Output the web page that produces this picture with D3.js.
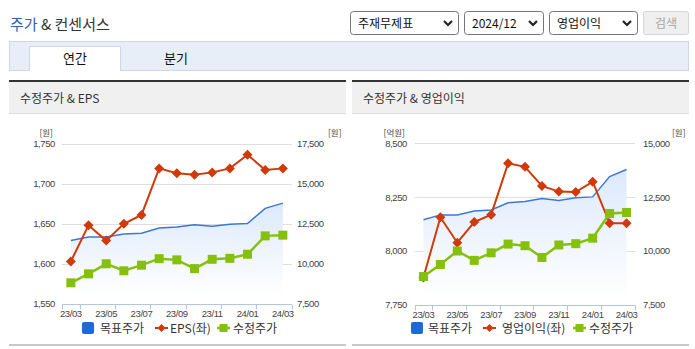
<!DOCTYPE html>
<html><head><meta charset="utf-8">
<script src="https://cdn.jsdelivr.net/npm/d3@7/dist/d3.min.js"></script>
<style>
html,body{margin:0;padding:0;background:#fff;}
svg{display:block;}
</style></head>
<body>
<svg id="c" width="695" height="349"></svg>
<script>
// ---- data ----
const months = ["23/03","23/04","23/05","23/06","23/07","23/08","23/09","23/10","23/11","23/12","24/01","24/02","24/03"];
const targetPrice = [11450, 11680, 11680, 11860, 11905, 12240, 12300, 12435, 12345, 12475, 12515, 13460, 13785];
const adjPrice = [8820, 9380, 10005, 9570, 9920, 10325, 10250, 9705, 10285, 10345, 10600, 11745, 11790];
const eps = [1603, 1648, 1629, 1650, 1661, 1719, 1713, 1711, 1714, 1719, 1736, 1717, 1719];
const opIncome = [7878, 8157, 8039, 8135, 8169, 8407, 8391, 8302, 8276, 8274, 8322, 8129, 8129];
const epsTicks = [1550, 1600, 1650, 1700, 1750];
const opTicks = [7750, 8000, 8250, 8500];
const priceTicksA = [7500, 10000, 12500, 15000, 17500];
const priceTicksB = [7500, 10000, 12500, 15000];

const KR = "'Noto Sans CJK KR','Noto Sans',sans-serif";
const NUM = "'Liberation Sans',Arial,sans-serif";
const svg = d3.select("#c");
const fmt = d3.format(",");

// defs
const defs = svg.append("defs");
const grad = defs.append("linearGradient").attr("id","areaGrad").attr("x1",0).attr("y1",0).attr("x2",0).attr("y2",1);
grad.append("stop").attr("offset","0%").attr("stop-color","#dce9fb");
grad.append("stop").attr("offset","100%").attr("stop-color","#ffffff");

// ---- header ----
const title = svg.append("text").attr("x",10).attr("y",30).attr("font-family",KR).attr("font-size",15);
title.append("tspan").attr("fill","#2f62b5").text("주가");
title.append("tspan").attr("fill","#333").text(" & 컨센서스");

// selects
function chevron(cx, cy){
  svg.append("path").attr("d",`M${cx-4},${cy-2} L${cx},${cy+2} L${cx+4},${cy-2}`)
    .attr("fill","none").attr("stroke","#222").attr("stroke-width",2.2);
}
const selects = [
  {x:350, w:108, label:"주재무제표"},
  {x:464, w:79, label:"2024/12"},
  {x:549, w:88, label:"영업이익"}
];
selects.forEach(s=>{
  svg.append("rect").attr("x",s.x+0.5).attr("y",11.5).attr("width",s.w).attr("height",23).attr("rx",3)
    .attr("fill","#fff").attr("stroke","#767676");
  svg.append("text").attr("x",s.x+8).attr("y",27.5).attr("font-family",KR).attr("font-size",12).attr("fill","#111").text(s.label);
  chevron(s.x+s.w-10, 23);
});
svg.append("rect").attr("x",643.5).attr("y",11.5).attr("width",45).attr("height",23).attr("rx",2)
  .attr("fill","#efefef").attr("stroke","#d6d6d6");
svg.append("text").attr("x",666).attr("y",27.5).attr("text-anchor","middle").attr("font-family",KR).attr("font-size",12).attr("fill","#a8a8a8").text("검색");

// tabs
svg.append("rect").attr("x",9.5).attr("y",41.5).attr("width",679).attr("height",29).attr("fill","#e8eef8").attr("stroke","#cdd7e6");
svg.append("path").attr("d","M29.5,71 L29.5,46.5 L120.5,46.5 L120.5,71").attr("fill","#fff").attr("stroke","#cdd7e6");
svg.append("rect").attr("x",30).attr("y",47).attr("width",90).attr("height",25).attr("fill","#fff");
svg.append("text").attr("x",75).attr("y",63).attr("text-anchor","middle").attr("font-family",KR).attr("font-size",13).attr("fill","#111").text("연간");
svg.append("text").attr("x",176).attr("y",63).attr("text-anchor","middle").attr("font-family",KR).attr("font-size",13).attr("fill","#111").text("분기");

// ---- charts ----
function panel(cfg){
  const g = svg.append("g");
  // panel chrome
  g.append("rect").attr("x",cfg.px).attr("y",82).attr("width",cfg.pw).attr("height",31).attr("fill","#f0f0f0");
  g.append("line").attr("x1",cfg.px).attr("x2",cfg.px+cfg.pw).attr("y1",81).attr("y2",81).attr("stroke","#333").attr("stroke-width",2);
  g.append("line").attr("x1",cfg.px).attr("x2",cfg.px+cfg.pw).attr("y1",113.5).attr("y2",113.5).attr("stroke","#dcdcdc");
  g.append("text").attr("x",cfg.px+11).attr("y",103).attr("font-family",KR).attr("font-size",12).attr("fill","#333").text(cfg.title);
  g.append("line").attr("x1",cfg.px).attr("x2",cfg.px+cfg.pw).attr("y1",345).attr("y2",345).attr("stroke","#c8c8c8").attr("stroke-width",2);

  const x = d3.scaleBand().domain(months).range([cfg.x0, cfg.x1]).padding(0);
  const cx = d => x(d) + x.bandwidth()/2;
  const yL = d3.scaleLinear().domain(cfg.lDomain).range([cfg.yb, cfg.yt]);
  const yR = d3.scaleLinear().domain(cfg.rDomain).range([cfg.yb, cfg.yt]);

  // grid
  cfg.lTicks.forEach(t=>{
    if (t !== cfg.lDomain[0])
      g.append("line").attr("x1",cfg.x0).attr("x2",cfg.x1).attr("y1",Math.round(yL(t))+0.5).attr("y2",Math.round(yL(t))+0.5).attr("stroke","#dedede");
    g.append("text").attr("x",cfg.lx).attr("y",yL(t)).attr("dy","0.35em").attr("text-anchor","end")
      .attr("font-family",NUM).attr("font-size",9.5).attr("letter-spacing",-0.4).attr("fill","#444").text(fmt(t));
  });
  cfg.rTicks.forEach(t=>{
    g.append("text").attr("x",cfg.rx).attr("y",yR(t)).attr("dy","0.35em").attr("text-anchor","start")
      .attr("font-family",NUM).attr("font-size",9.5).attr("letter-spacing",-0.4).attr("fill","#444").text(fmt(t));
  });
  g.append("text").attr("x",cfg.lux).attr("y",136).attr("text-anchor","end")
    .attr("font-family",KR).attr("font-size",8.5).attr("fill","#444").text(cfg.lUnit);
  g.append("text").attr("x",cfg.rux).attr("y",136).attr("text-anchor","start")
    .attr("font-family",KR).attr("font-size",8.5).attr("fill","#444").text("[원]");

  // x axis
  const axY = Math.round(cfg.yb)+0.5;
  g.append("line").attr("x1",cfg.x0).attr("x2",cfg.x1).attr("y1",axY).attr("y2",axY).attr("stroke","#b4c6dc");
  const tickIdx = [0,1,3,5,7,9,11,13];
  tickIdx.forEach(i=>{
    const tx = Math.round(cfg.x0 + x.step()*i)+0.5;
    g.append("line").attr("x1",tx).attr("x2",tx).attr("y1",axY).attr("y2",axY+5).attr("stroke","#b4c6dc");
  });
  months.forEach((m,i)=>{
    if (i%2===0)
      g.append("text").attr("x",cx(m)).attr("y",axY+9).attr("dy","0.35em").attr("text-anchor","middle")
        .attr("font-family",NUM).attr("font-size",9.5).attr("letter-spacing",-0.4).attr("fill","#444").text(m);
  });

  // target price area + line
  const area = d3.area().x((d,i)=>cx(months[i])).y0(cfg.yb-8).y1(d=>yR(d));
  g.append("path").datum(targetPrice).attr("d",area).attr("fill","url(#areaGrad)");
  const lineR = d3.line().x((d,i)=>cx(months[i])).y(d=>yR(d));
  g.append("path").datum(targetPrice).attr("d",lineR).attr("fill","none").attr("stroke","#3a78d8").attr("stroke-width",1.5);

  // left series (red)
  const lineL = d3.line().x((d,i)=>cx(months[i])).y(d=>yL(d));
  g.append("path").datum(cfg.lSeries).attr("d",lineL).attr("fill","none").attr("stroke","#d03a0a").attr("stroke-width",2);
  g.selectAll(null).data(cfg.lSeries).enter().append("path")
    .attr("d",(d,i)=>{const X=cx(months[i]),Y=yL(d);return `M${X},${Y-5}L${X+5},${Y}L${X},${Y+5}L${X-5},${Y}Z`;})
    .attr("fill","#d03a0a");

  // adjusted price (green)
  g.append("path").datum(adjPrice).attr("d",lineR).attr("fill","none").attr("stroke","#86c00f").attr("stroke-width",2.5);
  g.selectAll(null).data(adjPrice).enter().append("rect")
    .attr("x",(d,i)=>cx(months[i])-4.5).attr("y",d=>yR(d)-4.5).attr("width",9).attr("height",9)
    .attr("fill","#86c00f");

  // legend
  const ly = 328;
  const L = cfg.leg;
  g.append("rect").attr("x",L[0]).attr("y",ly-6).attr("width",12).attr("height",12).attr("rx",2).attr("fill","#1f69d8");
  g.append("text").attr("x",L[1]).attr("y",ly).attr("dy","0.38em").attr("font-family",KR).attr("font-size",12).attr("fill","#333").text("목표주가");
  g.append("line").attr("x1",L[2]).attr("x2",L[2]+13).attr("y1",ly).attr("y2",ly).attr("stroke","#d03a0a").attr("stroke-width",2);
  g.append("path").attr("d",`M${L[2]+6.5},${ly-4}L${L[2]+10.5},${ly}L${L[2]+6.5},${ly+4}L${L[2]+2.5},${ly}Z`).attr("fill","#d03a0a");
  g.append("text").attr("x",L[3]).attr("y",ly).attr("dy","0.38em").attr("font-family",KR).attr("font-size",12).attr("fill","#333").text(cfg.lName);
  g.append("line").attr("x1",L[4]).attr("x2",L[4]+13).attr("y1",ly).attr("y2",ly).attr("stroke","#86c00f").attr("stroke-width",2.5);
  g.append("rect").attr("x",L[4]+2.5).attr("y",ly-4).attr("width",8).attr("height",8).attr("fill","#86c00f");
  g.append("text").attr("x",L[5]).attr("y",ly).attr("dy","0.38em").attr("font-family",KR).attr("font-size",12).attr("fill","#333").text("수정주가");
}

panel({
  px:9, pw:337, title:"수정주가 & EPS",
  x0:62, x1:291.7, yb:304, yt:143.5,
  lDomain:[1550,1750], rDomain:[7500,17500], lTicks:epsTicks, rTicks:priceTicksA,
  lx:55, rx:297, lux:53, rux:328, lUnit:"[원]",
  lSeries:eps, lName:"EPS(좌)",
  leg:[82,100,155,170,217,233]
});
panel({
  px:352, pw:337, title:"수정주가 & 영업이익",
  x0:415, x1:635, yb:305, yt:143.3,
  lDomain:[7750,8500], rDomain:[7500,15000], lTicks:opTicks, rTicks:priceTicksB,
  lx:407, rx:643, lux:405, rux:672, lUnit:"[억원]",
  lSeries:opIncome, lName:"영업이익(좌)",
  leg:[411,428,483,502,573,589]
});
</script>
</body></html>
